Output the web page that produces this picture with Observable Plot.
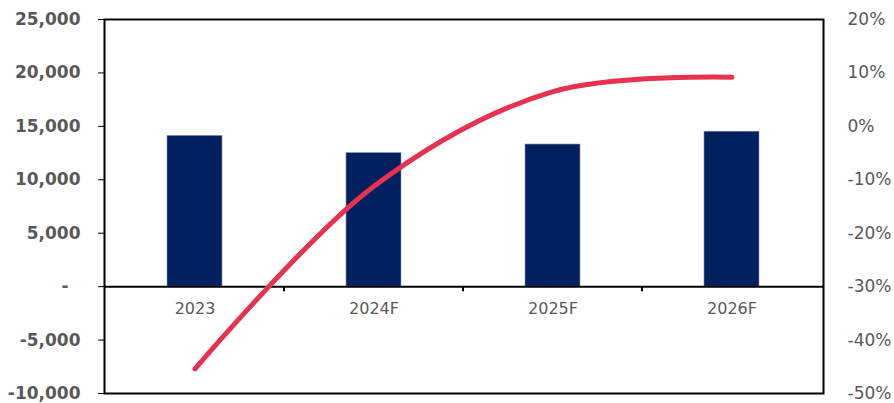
<!DOCTYPE html>
<html>
<head>
<meta charset="utf-8">
<script src="https://cdn.jsdelivr.net/npm/d3@7"></script>
<script src="https://cdn.jsdelivr.net/npm/@observablehq/plot@0.6"></script>
<style>
  html, body { margin: 0; padding: 0; background: #fff; }
</style>
</head>
<body>
<div id="chart"></div>
<script>
// Categories and series
const years = ["2023", "2024F", "2025F", "2026F"];
const volume = [14100, 12500, 13300, 14500];      // left axis (bars)
const growth = [-45.4, -11.2, 6.5, 9.2];          // right axis, % (line)

// Axis domains and tick values
const leftDomain = [-10000, 25000];
const rightDomain = [-50, 20];
const leftTicks = [-10000, -5000, 0, 5000, 10000, 15000, 20000, 25000];
const rightTicks = [-50, -40, -30, -20, -10, 0, 10, 20];

const data = years.map((year, i) => ({year, volume: volume[i], growth: growth[i]}));

// Map the right-hand (percent) axis onto the left-hand value scale
const toLeft = d3.scaleLinear().domain(rightDomain).range(leftDomain);

const fmtLeft = v => v === 0 ? "-\u2007" : (v < 0 ? "-" : "") + d3.format(",")(Math.abs(v));
const fmtRight = v => `${Math.round(toLeft.invert(v))}%`;

// Small tick marks on the zero line between categories
function categoryDividers(index, scales) {
  const x = scales.x, y = scales.y;
  const bw = typeof x.bandwidth === "function" ? x.bandwidth() : x.bandwidth;
  const step = x(years[1]) - x(years[0]);
  const y0 = y(0);
  const g = d3.create("svg:g");
  years.slice(1).forEach(c => {
    const xb = x(c) + bw / 2 - step / 2;
    g.append("line")
      .attr("x1", xb).attr("x2", xb)
      .attr("y1", y0).attr("y2", y0 + 5)
      .attr("stroke", "black").attr("stroke-width", 2);
  });
  return g.node();
}

const chart = Plot.plot({
  width: 894,
  height: 403,
  marginLeft: 104,
  marginRight: 71,
  marginTop: 19,
  marginBottom: 10,
  style: {fontFamily: "DejaVu Sans", background: "white"},
  x: {domain: years, paddingInner: 0.69, paddingOuter: 0.345, axis: null},
  y: {domain: leftDomain, axis: null},
  marks: [
    Plot.barY(data, {x: "year", y: "volume", fill: "#002060", stroke: "#8090b8", strokeWidth: 0.6}),
    Plot.ruleY([0], {stroke: "black", strokeWidth: 2}),
    categoryDividers,
    Plot.text(data, {x: "year", y: () => 0, text: "year", dy: 22, fill: "#595959", fontSize: 16}),
    Plot.line(data, {
      x: "year",
      y: d => toLeft(d.growth),
      stroke: "#E8304F",
      strokeWidth: 5,
      strokeLinecap: "round",
      curve: "catmull-rom"
    }),
    Plot.frame({stroke: "black", strokeWidth: 2}),
    Plot.axisY(leftTicks, {
      anchor: "left",
      label: null,
      tickSize: 6,
      tickPadding: 18,
      tickFormat: fmtLeft,
      fontSize: 17,
      fontWeight: "bold",
      color: "#595959",
      stroke: "black"
    }),
    Plot.axisY(rightTicks.map(p => toLeft(p)), {
      anchor: "right",
      label: null,
      tickSize: 0,
      tickPadding: 24,
      tickFormat: fmtRight,
      fontSize: 17,
      color: "#595959"
    })
  ]
});

document.getElementById("chart").appendChild(chart);
</script>
</body>
</html>
